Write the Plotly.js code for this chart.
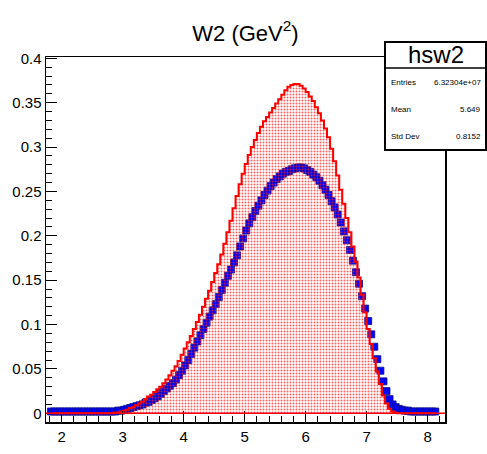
<!DOCTYPE html>
<html>
<head>
<meta charset="utf-8">
<script src="https://cdn.plot.ly/plotly-3.0.1.min.js"></script>
<style>
html,body{margin:0;padding:0;background:#fff;}
#chart{width:487px;height:454px;}
</style>
</head>
<body>
<div id="chart"></div>
<script>
// bin centers, width 0.05, from 1.825 to 8.125
const binStart = 1.825;
const binWidth = 0.05;
const redValues = [
  0,0,0,0,0,0,0,0,0,0,0,0,0,0,0,0,0,0,0,0,0,
  0.001,0.001,0.002,0.003,0.004,0.006,0.007,0.009,0.011,0.013,
  0.016,0.019,0.021,0.024,0.027,0.030,0.034,0.038,0.043,0.048,
  0.053,0.059,0.066,0.073,0.080,0.087,0.095,0.103,0.111,0.120,
  0.129,0.138,0.148,0.158,0.168,0.179,0.191,0.204,0.217,0.231,
  0.245,0.258,0.270,0.281,0.291,0.300,0.308,0.316,0.323,0.329,
  0.334,0.339,0.344,0.349,0.354,0.359,0.364,0.368,0.370,0.371,
  0.371,0.369,0.366,0.362,0.357,0.352,0.345,0.338,0.330,0.321,
  0.311,0.298,0.284,0.268,0.252,0.236,0.220,0.204,0.188,0.171,
  0.153,0.134,0.114,0.095,0.078,0.062,0.047,0.033,0.020,0.011,
  0.005,0.002,0.001,0,0,0,0,0,0,0,0,0,0,0,0,0
];
const blueValues = [
  0.002,0.002,0.002,0.002,0.002,0.002,0.002,0.002,0.002,0.002,0.002,
  0.002,0.002,0.002,0.002,0.002,0.002,0.002,0.002,0.002,0.002,
  0.002,0.003,0.003,0.004,0.005,0.006,0.007,0.008,0.009,0.010,
  0.012,0.013,0.015,0.017,0.019,0.022,0.025,0.028,0.031,0.034,
  0.038,0.043,0.048,0.054,0.060,0.067,0.074,0.081,0.088,0.095,
  0.102,0.109,0.116,0.123,0.131,0.139,0.147,0.155,0.162,0.170,
  0.178,0.188,0.197,0.206,0.214,0.221,0.228,0.234,0.240,0.246,
  0.251,0.256,0.260,0.264,0.267,0.270,0.272,0.273,0.275,0.276,
  0.277,0.277,0.276,0.274,0.272,0.269,0.266,0.262,0.257,0.252,
  0.246,0.239,0.232,0.224,0.215,0.205,0.195,0.184,0.172,0.159,
  0.146,0.132,0.118,0.104,0.089,0.075,0.061,0.048,0.036,0.025,
  0.016,0.010,0.007,0.005,0.004,0.003,0.003,0.002,0.002,0.002,
  0.002,0.002,0.002,0.002,0.002,0.002
];
const xTickVals = [2,3,4,5,6,7,8];
const yTickVals = [0,0.05,0.1,0.15,0.2,0.25,0.3,0.35,0.4];
const statsLabels = ["Entries","Mean","Std Dev"];
const statsValues = ["6.32304e+07","5.649","0.8152"];
const histName = "hsw2";

const nb = Math.max(redValues.length, blueValues.length);
const centers = [];
for (let i = 0; i < nb; i++) centers.push(+(binStart + i*binWidth).toFixed(3));

const font = "Liberation Sans, Arial, Helvetica, sans-serif";

const blueTrace = {
  type: "scatter", mode: "markers",
  x: centers.slice(0, blueValues.length), y: blueValues,
  marker: {symbol: "square", size: 7, color: "#0000ff", line: {color: "#10108a", width: 0.8}},
  hoverinfo: "skip", showlegend: false
};
const redTrace = {
  type: "scatter", mode: "lines",
  x: centers.slice(0, redValues.length), y: redValues,
  line: {shape: "hvh", color: "#ff0000", width: 2},
  fill: "tozeroy",
  fillpattern: {shape: ".", fgcolor: "rgba(255,30,30,0.7)", bgcolor: "rgba(255,255,255,0)", size: 3, solidity: 0.35},
  hoverinfo: "skip", showlegend: false
};

const bx0 = 0.8496, bx1 = 1.1028, by0 = 0.745, by1 = 1.041, bdiv = 0.970;
const rowY = [0.929, 0.855, 0.781];
const annotations = [
  {xref:"paper", yref:"paper", x:(bx0+bx1)/2, y:(bdiv+by1)/2, text: histName, showarrow:false,
   font:{family:font, size:24, color:"#000"}, xanchor:"center", yanchor:"middle"}
];
statsLabels.forEach((lab, i) => {
  annotations.push({xref:"paper", yref:"paper", x:bx0+0.01, y:rowY[i], text: lab, showarrow:false,
    font:{family:font, size:8, color:"#000"}, xanchor:"left", yanchor:"middle"});
  annotations.push({xref:"paper", yref:"paper", x:bx1-0.008, y:rowY[i], text: statsValues[i], showarrow:false,
    font:{family:font, size:8, color:"#000"}, xanchor:"right", yanchor:"middle"});
});

const layout = {
  width: 487, height: 454,
  margin: {l: 46, r: 42, t: 57, b: 32},
  paper_bgcolor: "#fff", plot_bgcolor: "#fff",
  font: {family: font, color: "#000"},
  title: {text: "W2 (GeV<sup>2</sup>)", font: {family: font, size: 22, color: "#000"},
          x: 0.5, xref: "paper", y: 1 - 33/454, yref: "container", xanchor: "center", yanchor: "middle"},
  xaxis: {
    range: [1.743, 8.284], showgrid: false, zeroline: false,
    showline: true, linecolor: "#000", linewidth: 1.5, mirror: true,
    ticks: "inside", ticklen: 11, tickwidth: 1, tickcolor: "#000",
    tickvals: xTickVals, ticktext: xTickVals.map(String),
    tickfont: {family: font, size: 15, color: "#000"},
    minor: {ticks: "inside", ticklen: 6, dtick: 0.2, tick0: 0, tickwidth: 1, tickcolor: "#000", showgrid: false}
  },
  yaxis: {
    range: [-0.0098, 0.4015], showgrid: false, zeroline: false,
    showline: true, linecolor: "#000", linewidth: 1.5, mirror: true,
    ticks: "inside", ticklen: 11, tickwidth: 1, tickcolor: "#000",
    tickvals: yTickVals, ticktext: yTickVals.map(String),
    tickfont: {family: font, size: 15, color: "#000"},
    minor: {ticks: "inside", ticklen: 6, dtick: 0.01, tick0: 0, tickwidth: 1, tickcolor: "#000", showgrid: false}
  },
  shapes: [
    {type:"line", xref:"paper", yref:"y", x0:0, x1:1, y0:0, y1:0, line:{color:"#ff0000", width:1.5}},
    {type:"rect", xref:"paper", yref:"paper", x0:bx0, x1:bx1, y0:by0, y1:by1,
     fillcolor:"#fff", line:{color:"#000", width:2}},
    {type:"line", xref:"paper", yref:"paper", x0:bx0, x1:bx1, y0:bdiv, y1:bdiv, line:{color:"#000", width:1.5}}
  ],
  annotations: annotations
};

Plotly.newPlot("chart", [blueTrace, redTrace], layout, {displayModeBar: false, staticPlot: true});
</script>
</body>
</html>
